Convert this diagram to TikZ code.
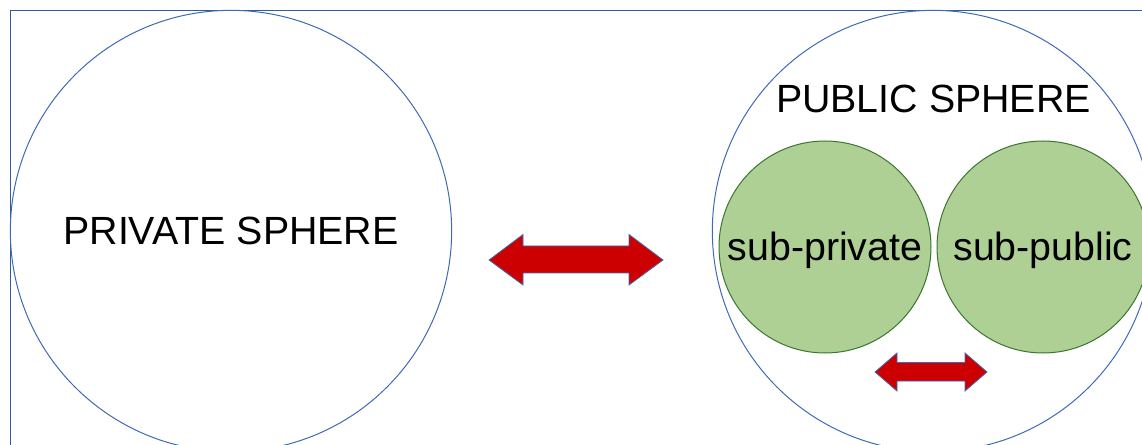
\documentclass[tikz,border=0pt]{standalone}
\usepackage{fontspec}
\setmainfont{Liberation Sans}
\usetikzlibrary{positioning}

\begin{document}
\begin{tikzpicture}[
        x=0.75pt, y=-0.75pt,
        every node/.style={inner sep=0pt, font=\fontsize{29.5}{35}\selectfont},
        sphere/.style={circle, draw=sphereline, line width=0.75pt, minimum size=331pt},
        subsphere/.style={circle, draw=subline, fill=subfill, line width=0.75pt, minimum size=159pt},
        blockarrow/.style={draw=sphereline, fill=arrowred, line width=0.6pt, line join=miter},
    ]
        \definecolor{frameline}{RGB}{46,94,158}
        \definecolor{sphereline}{RGB}{62,106,180}
        \definecolor{subfill}{RGB}{174,208,148}
        \definecolor{subline}{RGB}{58,118,48}
        \definecolor{arrowred}{RGB}{204,0,0}

        \useasboundingbox (0,0) rectangle (1142,445);
        \clip (0,0) rectangle (1142,445);

        % Frame
        \draw[frameline, line width=1.2pt] (1160,10.5) -- (10.5,10.5) -- (10.5,460);

        % Spheres
        \node[sphere] (private) at (231,231) {PRIVATE SPHERE};
        \node[sphere] (public) at (933,231) {};
        \node (publictitle) at (933.5,98.5) {PUBLIC SPHERE};

        % Sub-spheres
        \node[subsphere, label={[yshift=-2.5pt]center:sub-private}] (subprivate) at (825,247) {};
        \node[subsphere, label={[yshift=-2.5pt]center:sub-public}] (subpublic) at (1043,247) {};

        % Arrows
        \draw[blockarrow] (489,260) -- (523,234.5) -- (523,246) -- (629,246) -- (629,234.5)
            -- (663,260) -- (629,285) -- (629,273) -- (523,273) -- (523,285) -- cycle;
        \draw[blockarrow] (875,372) -- (897,353) -- (897,362.5) -- (965,362.5) -- (965,353)
            -- (987,372) -- (965,391) -- (965,381) -- (897,381) -- (897,391) -- cycle;
    \end{tikzpicture}
\end{document}
